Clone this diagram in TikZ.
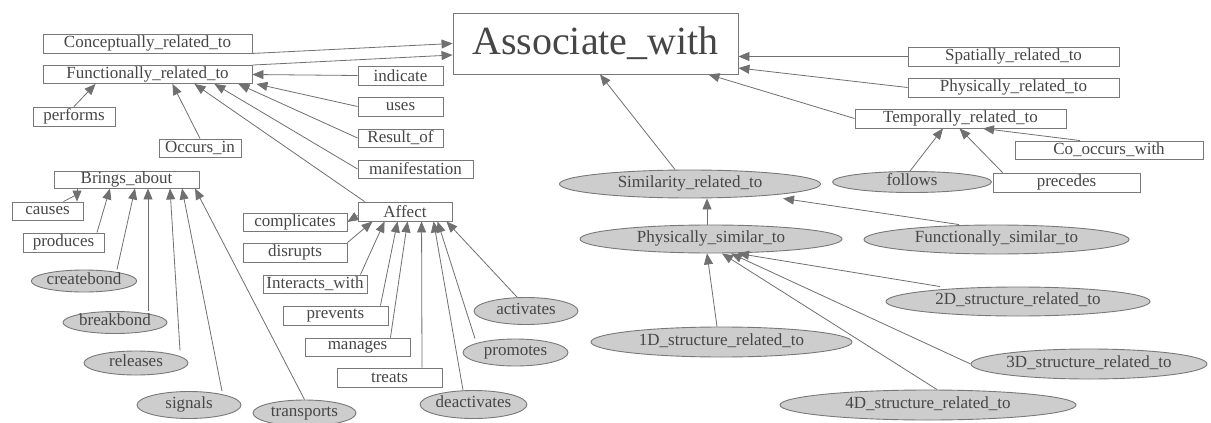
\documentclass[tikz,border=0pt]{standalone}
\usepackage{fontspec}
\setmainfont{Liberation Serif}
\usetikzlibrary{arrows.meta,shapes.geometric}
\definecolor{linegray}{RGB}{112,112,112}
\definecolor{boxgray}{RGB}{120,120,120}
\definecolor{textgray}{RGB}{70,70,70}
\definecolor{ovalgray}{RGB}{205,205,205}
\newcommand\lblfnt{\fontsize{17pt}{20pt}\selectfont}
\newcommand\bigfnt{\fontsize{40pt}{46pt}\selectfont}
\tikzset{
  box/.style={draw=boxgray, fill=white, rectangle, inner sep=0pt, text=textgray, font=\lblfnt, line width=0.9pt},
  oval/.style={draw=boxgray, fill=ovalgray, ellipse, inner sep=0pt, text=textgray, font=\lblfnt, text height=9pt, text depth=3pt, line width=0.9pt},
  conn/.style={draw=linegray, line width=0.8pt},
  arr/.style={conn, -{Triangle[length=11pt,width=9pt]}},
}
\begin{document}
\begin{tikzpicture}[x=1pt,y=-1pt]
\useasboundingbox[fill=white] (0,0) rectangle (1211,423);
% central
\node[box, minimum width=285pt, minimum height=61pt, font=\bigfnt] (assoc) at (595.5,43.5) {Associate\_with};
% left top
\node[box, minimum width=209pt, minimum height=19pt] (concept) at (147.5,43.5) {Conceptually\_related\_to};
\node[box, minimum width=209pt, minimum height=18pt] (funct) at (147.5,74.5) {Functionally\_related\_to};
\node[box, minimum width=85pt, minimum height=19pt] (indicate) at (400.5,75.5) {indicate};
\node[box, minimum width=85pt, minimum height=19pt] (uses) at (400.5,106.5) {uses};
\node[box, minimum width=85pt, minimum height=18pt] (result) at (400.5,138) {Result\_of};
\node[box, minimum width=115pt, minimum height=18pt] (manif) at (415.5,169) {manifestation};
\node[box, minimum width=82pt, minimum height=19pt] (performs) at (74,116.5) {performs};
\node[box, minimum width=82pt, minimum height=18pt] (occurs) at (200,148) {Occurs\_in};
% brings about
\node[box, minimum width=145pt, minimum height=17pt] (brings) at (126.5,179.5) {Brings\_about};
\node[box, minimum width=71pt, minimum height=18pt] (causes) at (47.5,211) {causes};
\node[box, minimum width=81pt, minimum height=19pt] (produces) at (63.5,242.5) {produces};
\node[oval, minimum width=104pt, minimum height=22pt] (createbond) at (84,281) {createbond};
\node[oval, minimum width=104pt, minimum height=22pt] (breakbond) at (115,322.5) {breakbond};
\node[oval, minimum width=104pt, minimum height=24pt] (releases) at (136,363) {releases};
\node[oval, minimum width=104pt, minimum height=27pt] (signals) at (189,405) {signals};
\node[oval, minimum width=103pt, minimum height=26pt] (transports) at (304.5,413) {transports};
% affect
\node[box, minimum width=94pt, minimum height=19pt] (affect) at (405,211.5) {Affect};
\node[box, minimum width=104pt, minimum height=18pt] (complicates) at (295,222) {complicates};
\node[box, minimum width=104pt, minimum height=19pt] (disrupts) at (295,252.5) {disrupts};
\node[box, minimum width=104pt, minimum height=18pt] (interacts) at (315,284) {Interacts\_with};
\node[box, minimum width=105pt, minimum height=19pt] (prevents) at (335.5,315.5) {prevents};
\node[box, minimum width=105pt, minimum height=18pt] (manages) at (357.5,347) {manages};
\node[box, minimum width=105pt, minimum height=19pt] (treats) at (389.5,377.5) {treats};
\node[oval, minimum width=104pt, minimum height=27pt] (activates) at (526,311) {activates};
\node[oval, minimum width=105pt, minimum height=27pt] (promotes) at (515.5,352.5) {promotes};
\node[oval, minimum width=105pt, minimum height=28pt] (deactivates) at (473.5,404.5) {deactivates};
% right top
\node[box, minimum width=211pt, minimum height=19pt] (spatial) at (1013.5,56.5) {Spatially\_related\_to};
\node[box, minimum width=211pt, minimum height=19pt] (physrel) at (1013.5,87.5) {Physically\_related\_to};
\node[box, minimum width=211pt, minimum height=19pt] (temporal) at (960.5,118.5) {Temporally\_related\_to};
\node[box, minimum width=188pt, minimum height=18pt] (cooccurs) at (1109,150) {Co\_occurs\_with};
\node[box, minimum width=147pt, minimum height=19pt] (precedes) at (1066.5,182.5) {precedes};
\node[oval, minimum width=159pt, minimum height=21pt] (follows) at (912,182) {follows};
% similarity
\node[oval, minimum width=261pt, minimum height=28pt] (similarity) at (690,184) {Similarity\_related\_to};
\node[oval, minimum width=262pt, minimum height=28pt] (physsim) at (711,239) {Physically\_similar\_to};
\node[oval, minimum width=265pt, minimum height=29pt] (funcsim) at (996.5,239.5) {Functionally\_similar\_to};
\node[oval, minimum width=261pt, minimum height=30pt] (d1) at (721.5,342) {1D\_structure\_related\_to};
\node[oval, minimum width=264pt, minimum height=29pt] (d2) at (1018,301.5) {2D\_structure\_related\_to};
\node[oval, minimum width=236pt, minimum height=30pt] (d3) at (1089,364) {3D\_structure\_related\_to};
\node[oval, minimum width=296pt, minimum height=30pt] (d4) at (928,405) {4D\_structure\_related\_to};
% edges to Associate_with
\draw[arr] (concept.south east) -- (assoc.west);
\draw[arr] (funct.north east) -- ([yshift=-11.5pt]assoc.west);
\draw[arr] (spatial.west) -- ([yshift=-13pt]assoc.east);
\draw[arr] (physrel.west) -- ([yshift=-24.5pt]assoc.east);
\draw[arr] (temporal.west) -- ([xshift=-30pt]assoc.south east);
\draw[arr] ([xshift=-15pt]similarity.north) -- ([xshift=4.5pt]assoc.south);
% edges to Functionally_related_to
\draw[arr] (indicate.west) -- (funct.east);
\draw[arr] (uses.west) -- ([xshift=4pt]funct.south east);
\draw[arr] (result.west) -- ([xshift=-14pt]funct.south east);
\draw[arr] (manif.west) -- ([xshift=-38pt]funct.south east);
\draw[arr] ([xshift=7pt]affect.north west) -- ([xshift=-58pt]funct.south east);
\draw[arr] (occurs.north) -- ([xshift=-80pt]funct.south east);
\draw[arr] (performs.north) -- ([xshift=53pt]funct.south west);
% edges around Brings_about
\draw[conn] ([xshift=16pt]causes.north) -- ([xshift=-49.5pt,yshift=-6pt]brings.south);
\draw[arr] ([xshift=-49.5pt]brings.south) -- ([xshift=29.5pt]causes.north);
\draw[arr] ([xshift=33.5pt]produces.north) -- ([xshift=-16.5pt]brings.south);
\draw[arr] ([xshift=33pt]createbond.north) -- ([xshift=8.5pt]brings.south);
\draw[arr] ([xshift=33pt]breakbond.north) -- ([xshift=21.5pt]brings.south);
\draw[arr] ([xshift=44pt]releases.north) -- ([xshift=43.5pt]brings.south);
\draw[arr] ([xshift=33pt]signals.north) -- ([xshift=55.5pt]brings.south);
\draw[arr] (transports.north) -- ([xshift=68.5pt]brings.south);
% edges around Affect
\draw[arr] ([yshift=-4pt]affect.west) -- (complicates.east);
\draw[arr] (disrupts.north east) -- ([xshift=15pt]affect.south west);
\draw[arr] ([xshift=-7pt]interacts.north east) -- ([xshift=27pt]affect.south west);
\draw[arr] ([xshift=-8pt]prevents.north east) -- ([xshift=40pt]affect.south west);
\draw[arr] ([xshift=-20pt]manages.north east) -- ([xshift=50pt]affect.south west);
\draw[arr] ([xshift=32.5pt]treats.north) -- ([xshift=64pt]affect.south west);
\draw[arr] ([xshift=-10.5pt]deactivates.north) -- ([xshift=76pt]affect.south west);
\draw[arr] ([xshift=-40.5pt]promotes.north) -- ([xshift=80pt]affect.south west);
\draw[arr] ([xshift=-9pt]activates.north) -- ([xshift=-6pt]affect.south east);
% edges to Temporally_related_to
\draw[arr] ([xshift=-2pt]follows.north) -- ([xshift=-17.5pt]temporal.south);
\draw[arr] ([xshift=10pt]precedes.north west) -- ([xshift=-1pt]temporal.south);
\draw[arr] ([xshift=-29pt]cooccurs.north) -- ([xshift=22.5pt]temporal.south);
% similarity edges
\draw[arr] ([xshift=-37.5pt]funcsim.north) -- ([xshift=93pt]similarity.south);
\draw[arr] ([xshift=-4pt]physsim.north) -- ([xshift=17pt]similarity.south);
\draw[arr] ([xshift=-4.5pt]d1.north) -- ([xshift=-4pt]physsim.south);
\draw[arr] ([xshift=-78pt]d2.north) -- ([xshift=27pt]physsim.south);
\draw[arr] (d3.west) -- ([xshift=20pt]physsim.south);
\draw[arr] ([xshift=9pt]d4.north) -- ([xshift=11pt]physsim.south);
\end{tikzpicture}
\end{document}
